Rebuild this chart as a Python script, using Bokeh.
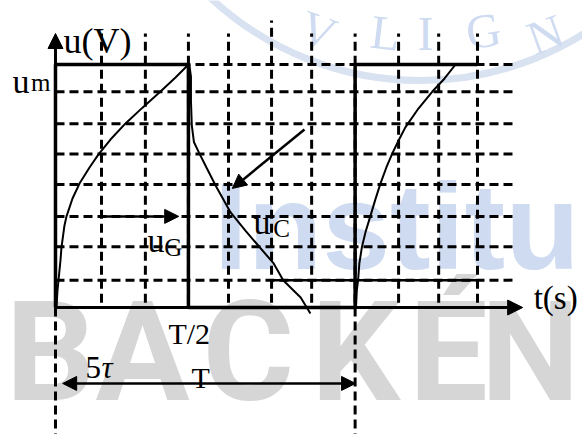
from bokeh.plotting import figure
from bokeh.models import Range1d, Arrow, NormalHead
from bokeh.core.properties import value
from bokeh.embed import file_html
from bokeh.resources import INLINE

# ---- data (time in grid divisions, voltage in grid divisions, u_m = 8) ----
u_m = 8.0
half_period = 3.15
period = 7.1
grid_t = [1.09, 2.13, 3.15, 4.10, 5.12, 6.07, 7.10, 8.13, 9.08, 10.0]
grid_u = [0.9, 2.0, 3.0, 4.05, 5.05, 6.05, 7.1, 8.0]

# generator voltage u_G (square wave)
ug_t = [0, 0, half_period, half_period, period, period, 10.0]
ug_u = [0, u_m, u_m, 0, 0, u_m, u_m]

# capacitor voltage u_C : charge, discharge, charge again
charge1_t = [0.024, 0.047, 0.071, 0.118, 0.142, 0.213, 0.261, 0.403, 0.569, 0.806,
             1.019, 1.303, 1.659, 2.062, 2.488, 2.844, 3.152]
charge1_u = [0.0, 0.56, 0.89, 1.55, 1.98, 2.70, 3.0, 3.59, 4.08, 4.61,
             5.04, 5.53, 6.06, 6.58, 7.11, 7.57, 8.0]
discharge_t = [3.17, 3.21, 3.21, 3.23, 3.28, 3.40, 3.58, 3.80, 4.15, 4.50, 5.17, 5.40, 5.81, 6.04]
discharge_u = [8.0, 7.6, 6.8, 6.0, 5.45, 5.10, 4.60, 4.00, 3.13, 2.53, 1.45, 0.89, 0.33, -0.2]
charge2_t = [7.12, 7.14, 7.17, 7.20, 7.26, 7.35, 7.46, 7.58, 7.70, 7.84, 7.99, 8.13, 8.29,
             8.60, 8.93, 9.22, 9.48]
charge2_u = [0.0, 0.56, 0.89, 1.45, 1.98, 2.50, 3.0, 3.56, 4.08, 4.61, 5.10, 5.50, 5.93,
             6.55, 7.11, 7.54, 8.0]

W, H = 582, 434
p = figure(width=W, height=H, output_backend="svg", toolbar_location=None,
           x_range=Range1d(-1.303, 12.488), y_range=Range1d(-4.181, 10.107),
           min_border=0)
p.axis.visible = False
p.grid.visible = False
p.outline_line_color = None
p.background_fill_color = "white"
p.border_fill_color = "white"

# ---- faint watermark behind the diagram ----
wm_blue = "#cfdbf0"
wm_ring = "#d9e2f1"
wm_grey = "#d6d6d6"
p.ellipse(x=[8.65], y=[17.61], width=14.6, height=20.28, fill_color=None,
          line_color=wm_ring, line_width=7)
p.text(x=[6.23, 7.82, 8.77, 10.14, 11.61], y=[9.12, 9.05, 9.02, 9.12, 8.99],
       text=["V", "L", "I", "G", "N"], angle=[-0.35, -0.12, 0.0, 0.15, 0.35],
       text_font=value("Liberation Serif"), text_font_size="48px",
       text_color=wm_blue, text_align="center", text_baseline="middle")
p.text(x=[3.75], y=[2.64], text=["Institu"], text_font=value("Liberation Sans"),
       text_font_style="bold", text_font_size="122px", text_color=wm_blue,
       text_baseline="alphabetic", text_align="left")
p.text(x=[-0.12, 2.06, 4.57, 7.11, 9.31, 11.25], y=[-4.15] * 6,
       text=["B", "A", "C", "K", "É", "N"], text_font=value("Roboto"),
       text_font_style="bold", text_font_size="140px", text_color=wm_grey,
       text_baseline="bottom", text_align="center")

# ---- dashed grid ----
dash = "9 5"
for u in grid_u:
    p.line([0, 10.85], [u, u], line_color="black", line_width=3, line_dash=dash)
for t in grid_t:
    top = 9.45 if t == 5.12 else 9.02
    p.line([t, t], [0.16, top], line_color="black", line_width=3, line_dash=dash)
# dashed markers of 0 and T below the time axis
for t in [0, period]:
    p.line([t, t], [0, -4.2], line_color="black", line_width=3, line_dash=dash)

# solid segment on the lowest level
p.line([5.12, 10.0], [0.9, 0.9], line_color="black", line_width=2.5)

# ---- axes with arrows ----
head = dict(size=15, fill_color="black", line_color="black")
p.add_layout(Arrow(end=NormalHead(**head), x_start=0, y_start=0, x_end=0, y_end=9.02,
                   line_width=3))
p.add_layout(Arrow(end=NormalHead(**head), x_start=0, y_start=0, x_end=11.07, y_end=0,
                   line_width=3))

# ---- curves ----
p.line(ug_t, ug_u, line_color="black", line_width=3.5)
p.line(charge1_t, charge1_u, line_color="black", line_width=2)
p.line(discharge_t, discharge_u, line_color="black", line_width=2)
p.line(charge2_t, charge2_u, line_color="black", line_width=2)

# pointer arrows for the labels
small = dict(size=14, fill_color="black", line_color="black")
p.add_layout(Arrow(end=NormalHead(**small), x_start=1.07, y_start=3.0, x_end=2.92, y_end=3.0,
                   line_width=2.5))
p.add_layout(Arrow(end=NormalHead(**small), x_start=5.90, y_start=5.86, x_end=4.19, y_end=3.92,
                   line_width=2.5))
# period T double arrow
p.add_layout(Arrow(start=NormalHead(**small), end=NormalHead(**small),
                   x_start=0.17, y_start=-2.5, x_end=7.11, y_end=-2.5, line_width=2.5))

# ---- labels ----
serif = value("Liberation Serif")

def label(x, y, s, size, align="left", style="normal"):
    p.text(x=[x], y=[y], text=[s], text_font=serif, text_font_size=size,
           text_font_style=style, text_color="black", text_align=align,
           text_baseline="alphabetic")

label(0.19, 8.79, "u(V)", "36px")
label(-1.02, 7.44, "u", "34px")
label(-0.58, 7.40, "m", "25px")
label(11.33, 0.30, "t(s)", "33px")
label(3.17, -0.86, "T/2", "30px", align="center")
label(0.71, -1.97, "5", "31px")
label(1.09, -1.97, "τ", "31px", style="italic")
label(3.44, -2.30, "T", "30px", align="center")
label(2.18, 2.21, "u", "34px")
label(2.58, 1.97, "G", "25px")
label(4.69, 2.80, "u", "34px")
label(5.16, 2.60, "C", "25px")

open("out.html", "w").write(file_html(p, INLINE))
